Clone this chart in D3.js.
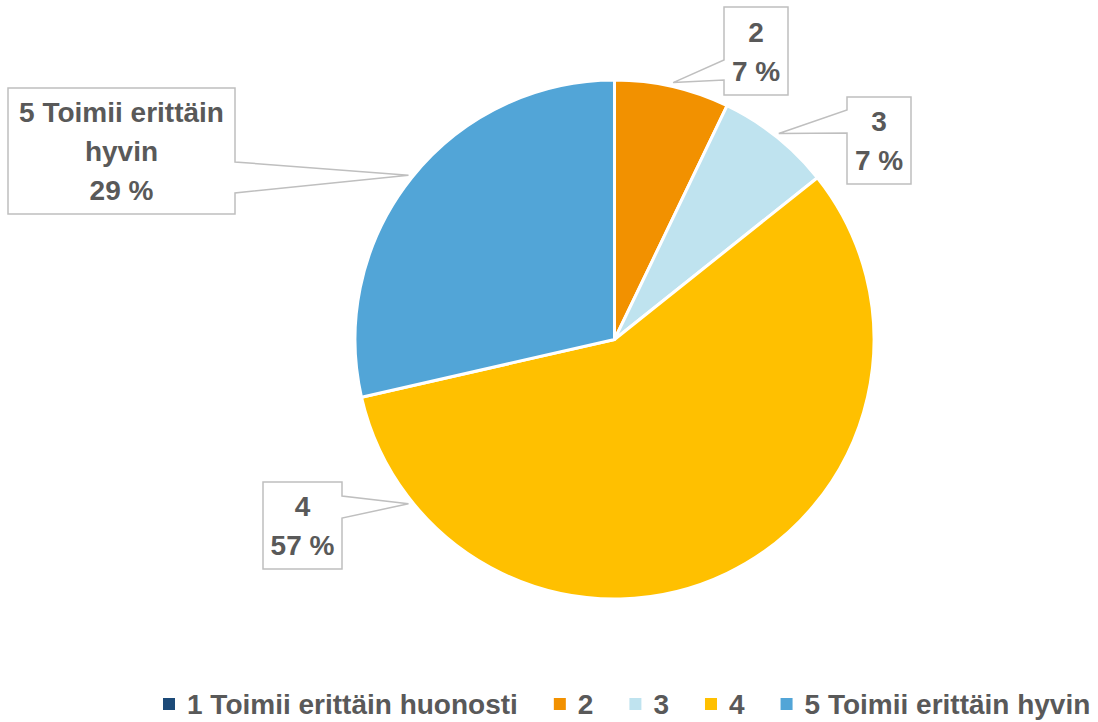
<!DOCTYPE html>
<html>
<head>
<meta charset="utf-8">
<script src="https://cdnjs.cloudflare.com/ajax/libs/d3/7.8.5/d3.min.js"></script>
<style>
	html, body { margin: 0; padding: 0; background: #fff; }
	svg text { font-family: "Liberation Sans", Arial, sans-serif; font-weight: bold; fill: #595959; }
</style>
</head>
<body>
<div id="chart"></div>
<script>
( function () {

	// Data (answer counts, 14 in total).
	var categories = [ '1 Toimii erittäin huonosti', '2', '3', '4', '5 Toimii erittäin hyvin' ];
	var counts = [ 0, 1, 1, 8, 4 ];
	var colors = [ '#1C4A78', '#F29100', '#BFE3EF', '#FFC000', '#52A5D7' ];

	// Label text lines (category name wrapped as in the picture).
	var labelLines = [ [], [ '2' ], [ '3' ], [ '4' ], [ '5 Toimii erittäin', 'hyvin' ] ];

	// Callout boxes: x, y, w, h, side of the pointer, pointer y's, where in the slice the tip sits.
	var callouts = [
		null,
		{ x: 724, y: 7, w: 64, h: 88, side: 'left', p1: 60, p2: 80, t: 0.5 },
		{ x: 847, y: 97, w: 64, h: 87, side: 'left', p1: 110, p2: 133, t: 0.5 },
		{ x: 263, y: 482, w: 79, h: 87, side: 'right', p1: 496, p2: 518, t: 0.875 },
		{ x: 8, y: 88, w: 227, h: 126, side: 'right', p1: 162, p2: 193, t: 0.5 }
	];

	var width = 1098, height = 722;
	var cx = 614.5, cy = 339.5, radius = 259.5;

	var svg = d3.select( '#chart' ).append( 'svg' )
		.attr( 'width', width )
		.attr( 'height', height );

	var total = d3.sum( counts );

	var pie = d3.pie().sort( null ).value( function ( d ) { return d; } );
	var arcs = pie( counts );

	var arc = d3.arc().innerRadius( 0 ).outerRadius( radius );

	var g = svg.append( 'g' ).attr( 'transform', 'translate(' + cx + ',' + cy + ')' );

	g.selectAll( 'path.slice' )
		.data( arcs )
		.enter()
		.append( 'path' )
		.attr( 'class', 'slice' )
		.attr( 'd', arc )
		.attr( 'fill', function ( d, i ) { return colors[i]; } )
		.attr( 'stroke', '#fff' )
		.attr( 'stroke-width', 3 )
		.attr( 'stroke-linejoin', 'round' );

	// Callouts.
	var fontSize = 28, lineGap = 39;

	arcs.forEach( function ( d, i ) {
		var c = callouts[i];
		if ( !c || d.value === 0 ) { return; }

		var a = d.startAngle + ( d.endAngle - d.startAngle ) * c.t;
		var r = radius + 4;
		var tx = cx + Math.sin( a ) * r;
		var ty = cy - Math.cos( a ) * r;

		var x0 = c.x, x1 = c.x + c.w, y0 = c.y, y1 = c.y + c.h;
		var p;
		if ( c.side === 'right' ) {
			p = 'M' + x0 + ',' + y0 + 'H' + x1 + 'V' + c.p1 + 'L' + tx + ',' + ty +
				'L' + x1 + ',' + c.p2 + 'V' + y1 + 'H' + x0 + 'Z';
		} else {
			p = 'M' + x0 + ',' + y0 + 'H' + x1 + 'V' + y1 + 'H' + x0 + 'V' + c.p2 +
				'L' + tx + ',' + ty + 'L' + x0 + ',' + c.p1 + 'Z';
		}

		svg.append( 'path' )
			.attr( 'd', p )
			.attr( 'fill', '#fff' )
			.attr( 'stroke', '#BFBFBF' )
			.attr( 'stroke-width', 1.5 );

		var lines = labelLines[i].concat( [ Math.round( d.value / total * 100 ) + ' %' ] );
		var blockH = ( lines.length - 1 ) * lineGap;
		var firstBase = c.y + c.h / 2 - blockH / 2 + fontSize * 0.36;

		var text = svg.append( 'text' )
			.attr( 'text-anchor', 'middle' )
			.style( 'font-size', fontSize + 'px' );

		lines.forEach( function ( line, k ) {
			text.append( 'tspan' )
				.attr( 'x', c.x + c.w / 2 )
				.attr( 'y', firstBase + k * lineGap )
				.text( line );
		} );
	} );

	// Legend.
	var legend = svg.append( 'g' ).attr( 'class', 'legend' );
	var lx = 163, ly = 704, sq = 12;

	categories.forEach( function ( name, i ) {
		legend.append( 'rect' )
			.attr( 'x', lx )
			.attr( 'y', ly - sq / 2 )
			.attr( 'width', sq )
			.attr( 'height', sq )
			.attr( 'fill', colors[i] );

		var t = legend.append( 'text' )
			.attr( 'x', lx + sq + 12 )
			.attr( 'y', ly + 10 )
			.style( 'font-size', '28px' )
			.text( name );

		lx += sq + 12 + t.node().getComputedTextLength() + 36;
	} );

} )();
</script>
</body>
</html>
